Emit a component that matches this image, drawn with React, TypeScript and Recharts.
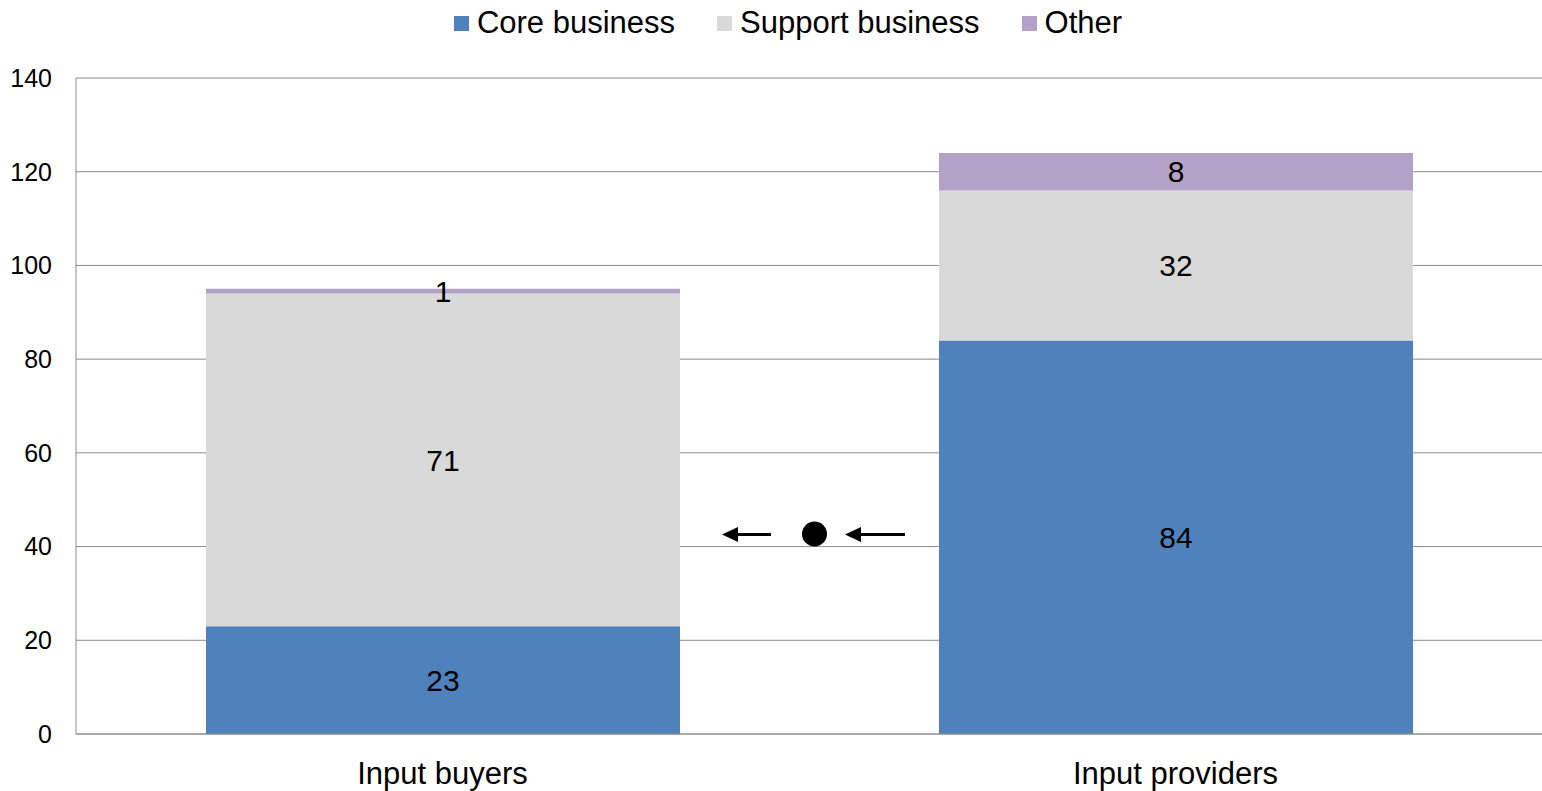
import { BarChart, Bar, XAxis, YAxis, CartesianGrid, Legend, LabelList, Customized } from 'recharts'

const categories = ['Input buyers', 'Input providers']
const coreValues = [23, 84]
const supportValues = [71, 32]
const otherValues = [1, 8]
const yTicks = [0, 20, 40, 60, 80, 100, 120, 140]

const series = [
  { key: 'core', name: 'Core business', color: '#4F81BD' },
  { key: 'support', name: 'Support business', color: '#D9D9D9' },
  { key: 'other', name: 'Other', color: '#B3A2C7' },
]

const data = categories.map((name, i) => ({
  name,
  core: coreValues[i],
  support: supportValues[i],
  other: otherValues[i],
}))

const FONT = '"Liberation Sans", Arial, sans-serif'

function LegendContent() {
  return (
    <div style={{ display: 'flex', justifyContent: 'center', alignItems: 'center', height: 40, fontFamily: FONT, fontSize: 31, color: '#000' }}>
      {series.map((s, i) => (
        <div key={s.key} style={{ display: 'flex', alignItems: 'center', marginRight: i < series.length - 1 ? 42 : 0 }}>
          <span style={{ width: 15, height: 15, background: s.color, display: 'inline-block', marginRight: 8 }} />
          <span>{s.name}</span>
        </div>
      ))}
    </div>
  )
}

// arrow annotation between the two bars
function Arrow({ tip, tail, y }: { tip: number; tail: number; y: number }) {
  return (
    <g>
      <line x1={tip + 12} y1={y} x2={tail} y2={y} stroke="#000" strokeWidth={3} />
      <path d={`M${tip},${y} L${tip + 16},${y - 7.5} L${tip + 16},${y + 7.5} Z`} fill="#000" />
    </g>
  )
}

function Arrows() {
  return (
    <g>
      <Arrow tip={722} tail={771} y={534.5} />
      <circle cx={814.5} cy={534} r={12.5} fill="#000" />
      <Arrow tip={845} tail={905} y={534.5} />
    </g>
  )
}

export default function App() {
  return (
    <div style={{ position: 'absolute', left: 0, top: 0, background: '#fff' }}>
      <BarChart width={1542} height={791} data={data} margin={{ top: 38, right: 0, bottom: 0, left: 0 }} barSize={474}>
        <CartesianGrid vertical={false} stroke="#8c8c8c" strokeWidth={1} />
        <XAxis
          dataKey="name"
          height={57}
          stroke="#8c8c8c"
          tickLine={false}
          tickSize={6}
          tickMargin={22}
          tick={{ fontSize: 31, fill: '#000', fontFamily: FONT }}
        />
        <YAxis
          width={76}
          domain={[0, 140]}
          ticks={yTicks}
          stroke="#8c8c8c"
          tickLine={false}
          tickSize={6}
          tickMargin={18}
          tick={{ fontSize: 25, fill: '#000', fontFamily: FONT }}
        />
        <Legend verticalAlign="top" align="center" content={<LegendContent />} wrapperStyle={{ top: 3, left: 17, width: 1542, height: 40 }} />
        {series.map(s => (
          <Bar key={s.key} dataKey={s.key} name={s.name} stackId="a" fill={s.color} isAnimationActive={false}>
            <LabelList dataKey={s.key} position="center" fill="#000" fontSize={30} fontFamily={FONT} />
          </Bar>
        ))}
        <Customized component={Arrows} />
      </BarChart>
    </div>
  )
}
